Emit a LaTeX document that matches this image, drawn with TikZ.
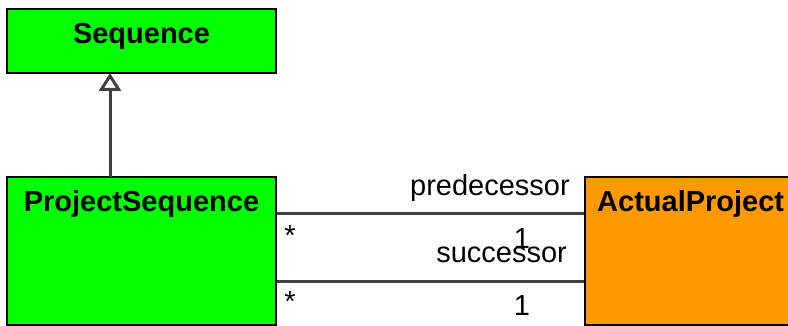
\documentclass[tikz,border=0pt]{standalone}
\usepackage{fontspec}
\setmainfont{Liberation Sans}
\usetikzlibrary{arrows.meta,calc}
\definecolor{boxgreen}{HTML}{00FF00}
\definecolor{boxorange}{HTML}{FF9900}
\definecolor{linegray}{HTML}{404040}
\begin{document}
\begin{tikzpicture}[x=1pt,y=-1pt,
  classbox/.style={draw=black,line width=2pt,inner sep=0pt,outer sep=0pt},
  title/.style={font=\fontsize{29}{33}\selectfont\bfseries,inner sep=0pt},
  lbl/.style={font=\fontsize{29}{33}\selectfont,inner sep=0pt},
  conn/.style={draw=linegray,line width=3pt},
  inherit/.style={conn,-{Triangle[open,length=18pt,width=22pt]}}
]
\useasboundingbox (0,0) rectangle (788,326);
\clip (0,0) rectangle (788,326);
\fill[white] (0,0) rectangle (788,326);
\node[classbox,fill=boxgreen,minimum width=269pt,minimum height=64pt,anchor=north west] (seq) at (7,9) {};
\node[title,anchor=base] (seqt) at (141.5,44) {Sequence};
\node[classbox,fill=boxgreen,minimum width=269pt,minimum height=147.5pt,anchor=north west] (ps) at (7,177) {};
\node[title,anchor=base] (pst) at (141.5,212) {ProjectSequence};
\node[classbox,fill=boxorange,minimum width=215pt,minimum height=147.5pt,anchor=north west] (ap) at (585,177) {};
\node[title,anchor=base west] (apt) at (597,212) {ActualProject};
\draw[inherit] (ps.north -| 110,0) -- (seq.south -| 110,0);
\draw[conn] ($(ps.north east)+(1,37)$) -- ($(ap.north west)+(-1,37)$);
\draw[conn] ($(ps.north east)+(1,104)$) -- ($(ap.north west)+(-1,104)$);
\node[lbl,anchor=base east] (pred) at (570,196) {predecessor};
\node[lbl,anchor=base east] (succ) at (567,262) {successor};
\node[lbl,anchor=base] (one1) at (522,248) {1};
\node[lbl,anchor=base] (one2) at (522,315) {1};
\node[lbl] (st1) at (290,236) {*};
\node[lbl] (st2) at (290,302) {*};
\end{tikzpicture}
\end{document}
